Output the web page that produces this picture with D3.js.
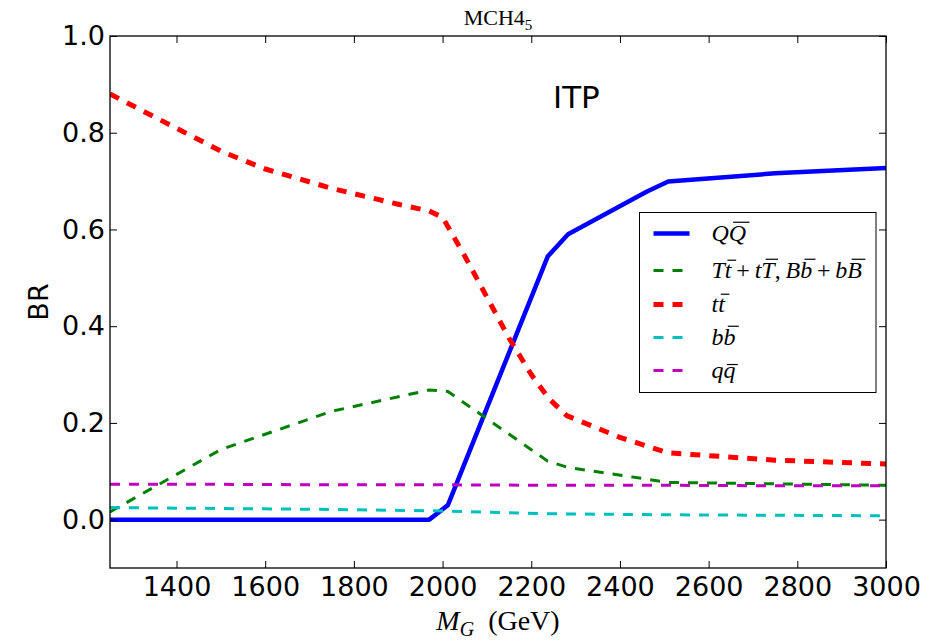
<!DOCTYPE html>
<html>
<head>
<meta charset="utf-8">
<script src="https://cdnjs.cloudflare.com/ajax/libs/d3/7.8.5/d3.min.js"></script>
<style>
  body { margin: 0; background: #fff; }
  svg { display: block; }
</style>
</head>
<body>
<svg id="chart" width="941" height="640"></svg>
<script>
// values, per channel (mass in GeV, branching ratio)
var massQQ = [1250, 1970, 2012, 2237, 2283, 2460, 2509, 2750, 3000]
var brQQ = [0, 0, 0.03, 0.544, 0.59, 0.678, 0.699, 0.716, 0.727]

var massMix = [1250, 1500, 1750, 1970, 2012, 2237, 2283, 2509, 2750, 3000]
var brMix = [0.016, 0.145, 0.224, 0.268, 0.265, 0.121, 0.108, 0.077, 0.074, 0.071]

var massTT = [1250, 1500, 1600, 1750, 1900, 1970, 2000, 2050, 2100, 2150, 2200, 2240, 2280, 2400, 2509, 2750, 3000]
var brTT = [0.88, 0.762, 0.725, 0.685, 0.652, 0.638, 0.625, 0.545, 0.46, 0.375, 0.3, 0.25, 0.215, 0.17, 0.138, 0.123, 0.115]

var massBB = [1250, 1500, 1750, 2000, 2250, 2500, 2750, 3000]
var brBB = [0.025, 0.023, 0.021, 0.018, 0.012, 0.01, 0.009, 0.008]

var massLight = [1250, 1500, 1750, 2000, 2250, 2500, 2750, 3000]
var brLight = [0.073, 0.073, 0.072, 0.072, 0.071, 0.071, 0.07, 0.07]

var xTicks = [1400, 1600, 1800, 2000, 2200, 2400, 2600, 2800, 3000]
var yTicks = [0.0, 0.2, 0.4, 0.6, 0.8, 1.0]

// legend labels, letters with bar: true get an overline
var labelQQ = [{ s: 'Q' }, { s: 'Q', bar: true }]
var labelMix = [
  { s: 'T' }, { s: 't', bar: true }, { s: '\u2009+\u2009', roman: true },
  { s: 't' }, { s: 'T', bar: true }, { s: ',\u2009', roman: true },
  { s: 'B' }, { s: 'b', bar: true }, { s: '\u2009+\u2009', roman: true },
  { s: 'b' }, { s: 'B', bar: true }
]
var labelTT = [{ s: 't' }, { s: 't', bar: true }]
var labelBB = [{ s: 'b' }, { s: 'b', bar: true }]
var labelLight = [{ s: 'q' }, { s: 'q', bar: true }]

var series = [
  { mass: massQQ, br: brQQ, color: '#0000ff', width: 4.5, dash: null, label: labelQQ },
  { mass: massMix, br: brMix, color: '#008000', width: 3, dash: '10,9', label: labelMix },
  { mass: massTT, br: brTT, color: '#ff0000', width: 5, dash: '10,9', label: labelTT },
  { mass: massBB, br: brBB, color: '#00bfbf', width: 3, dash: '10,9', label: labelBB },
  { mass: massLight, br: brLight, color: '#bf00bf', width: 3, dash: '10,9', label: labelLight }
]

var sans = 'DejaVu Sans, sans-serif'
var serif = 'Liberation Serif, DejaVu Serif, serif'

var svg = d3.select('#chart'),
  margin = { top: 36, right: 55, bottom: 72, left: 110 },
  width = +svg.attr('width') - margin.left - margin.right,
  height = +svg.attr('height') - margin.top - margin.bottom

var x = d3.scaleLinear().domain([1250, 3000]).range([0, width]),
  y = d3.scaleLinear().domain([-0.1, 1.0]).range([height, 0])

var g = svg.append('g')
  .attr('transform', 'translate(' + margin.left + ',' + margin.top + ')')

g.append('clipPath').attr('id', 'plot-clip')
  .append('rect').attr('width', width).attr('height', height)

var line = d3.line()
  .x(function (d) { return x(d[0]) })
  .y(function (d) { return y(d[1]) })

var lines = g.append('g').attr('clip-path', 'url(#plot-clip)')
series.forEach(function (s) {
  lines.append('path')
    .datum(d3.zip(s.mass, s.br))
    .attr('d', line)
    .attr('fill', 'none')
    .attr('stroke', s.color)
    .attr('stroke-width', s.width)
    .attr('stroke-linejoin', 'round')
    .attr('stroke-linecap', s.dash ? 'butt' : 'square')
    .attr('stroke-dasharray', s.dash)
})

// axes, ticks pointing inwards on all four sides
function styleAxis(sel) {
  sel.select('.domain').remove()
  sel.selectAll('.tick line').attr('stroke', '#000').attr('stroke-width', 1)
  sel.selectAll('.tick text')
    .attr('fill', '#000')
    .attr('font-family', sans)
    .attr('font-size', 27)
}

g.append('g')
  .attr('transform', 'translate(0,' + height + ')')
  .call(d3.axisBottom(x).tickValues(xTicks).tickSize(-7).tickPadding(9).tickFormat(d3.format('d')))
  .call(styleAxis)

g.append('g')
  .call(d3.axisLeft(y).tickValues(yTicks).tickSize(-7).tickPadding(5).tickFormat(d3.format('.1f')))
  .call(styleAxis)

g.append('g')
  .call(d3.axisTop(x).tickValues(xTicks).tickSize(-7).tickFormat(''))
  .call(styleAxis)

g.append('g')
  .attr('transform', 'translate(' + width + ',0)')
  .call(d3.axisRight(y).tickValues(yTicks).tickSize(-7).tickFormat(''))
  .call(styleAxis)

g.append('rect')
  .attr('width', width)
  .attr('height', height)
  .attr('fill', 'none')
  .attr('stroke', '#000')
  .attr('stroke-width', 1.3)

// math-like text with overlined letters
function drawMath(parent, tx, ty, parts, fontSize) {
  var text = parent.append('text')
    .attr('x', tx)
    .attr('y', ty)
    .attr('font-family', serif)
    .attr('font-size', fontSize)
    .attr('fill', '#000')
  var nodes = parts.map(function (p) {
    return text.append('tspan')
      .attr('font-style', p.roman ? 'normal' : 'italic')
      .text(p.s)
      .node()
  })
  parts.forEach(function (p, i) {
    if (!p.bar) return
    var x0 = nodes[i].getStartPositionOfChar(0).x,
      x1 = nodes[i].getEndPositionOfChar(0).x,
      h = p.s == 'q' ? 0.54 : p.s == 't' ? 0.72 : 0.76,
      shift = h * fontSize * 0.18
    if (x1 - x0 < fontSize * 0.4) {
      x0 -= 1.5
      x1 += 1.5
    }
    parent.append('line')
      .attr('x1', x0 + shift + 1)
      .attr('x2', x1 + shift)
      .attr('y1', ty - h * fontSize)
      .attr('y2', ty - h * fontSize)
      .attr('stroke', '#000')
      .attr('stroke-width', 1.2)
  })
}

// legend
var legend = svg.append('g').attr('transform', 'translate(639.5,212.5)')
legend.append('rect')
  .attr('width', 236.5)
  .attr('height', 180)
  .attr('fill', '#fff')
  .attr('stroke', '#000')
  .attr('stroke-width', 1)

var rowY = [21, 58, 92, 125, 158]
series.forEach(function (s, i) {
  legend.append('line')
    .attr('x1', 14)
    .attr('x2', 50)
    .attr('y1', rowY[i])
    .attr('y2', rowY[i])
    .attr('stroke', s.color)
    .attr('stroke-width', s.width)
    .attr('stroke-dasharray', s.dash)
  drawMath(legend, 72, rowY[i] + 7, s.label, 24)
})

// titles and labels
var title = svg.append('text')
  .attr('x', margin.left + width / 2)
  .attr('y', 25)
  .attr('text-anchor', 'middle')
  .attr('font-family', serif)
  .attr('font-size', 22)
  .text('MCH4')
title.append('tspan')
  .attr('font-size', 15)
  .attr('dy', 5)
  .text('5')

svg.append('text')
  .attr('x', 553)
  .attr('y', 108)
  .attr('font-family', sans)
  .attr('font-size', 31)
  .text('ITP')

svg.append('text')
  .attr('transform', 'translate(48,302) rotate(-90)')
  .attr('text-anchor', 'middle')
  .attr('font-family', sans)
  .attr('font-size', 27)
  .text('BR')

var xLabel = svg.append('text')
  .attr('x', margin.left + width / 2)
  .attr('y', 630)
  .attr('text-anchor', 'middle')
  .attr('font-family', serif)
  .attr('font-size', 28)
xLabel.append('tspan').attr('font-style', 'italic').text('M')
xLabel.append('tspan').attr('font-style', 'italic').attr('font-size', 20).attr('dy', 6).text('G')
xLabel.append('tspan').attr('dy', -6).text('\u2002(GeV)')
</script>
</body>
</html>
